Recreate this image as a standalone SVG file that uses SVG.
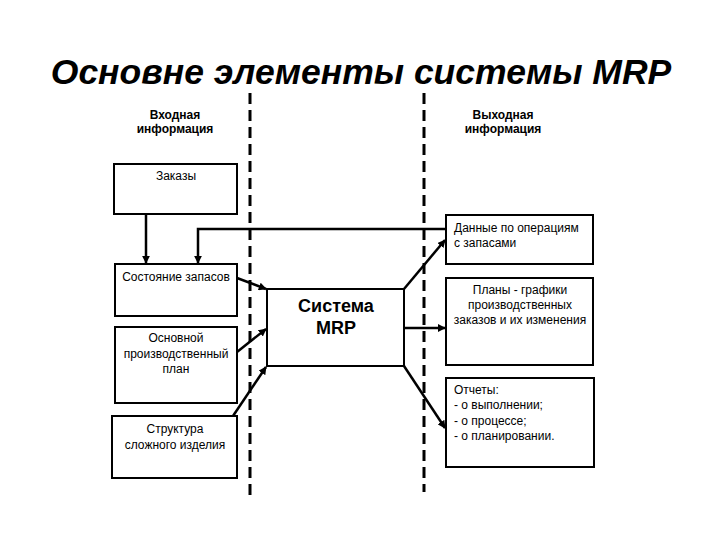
<svg xmlns="http://www.w3.org/2000/svg" width="720" height="540" viewBox="0 0 720 540">
<defs>
<marker id="ah" viewBox="0 0 10 10" refX="9" refY="5" markerWidth="8" markerHeight="8" markerUnits="userSpaceOnUse" orient="auto">
<path d="M0,0 L10,5 L0,10 z" fill="#000"/>
</marker>
</defs>
<style>
.box{fill:#fff;stroke:#000;stroke-width:2}
.t{font-family:"Liberation Sans",Arial,sans-serif;font-size:12px;fill:#000}
.c{text-anchor:middle}
.b{font-weight:bold}
.ln{fill:none;stroke:#000;stroke-width:2.5}
.dash{stroke:#000;stroke-width:3;stroke-dasharray:11 6;fill:none}
</style>
<rect width="720" height="540" fill="#fff"/>
<text x="361" y="84" font-family="Liberation Sans,Arial,sans-serif" font-size="35.5" font-weight="bold" font-style="italic" text-anchor="middle">Основне элементы системы MRP</text>
<g id="dividers">
<line class="dash" x1="250" y1="93" x2="250" y2="497"/>
<line class="dash" x1="424" y1="93" x2="424" y2="492"/>
</g>
<g id="label-in"><text class="t c b" x="175" y="119">Входная</text><text class="t c b" x="175" y="133">информация</text></g>
<g id="label-out"><text class="t c b" x="503" y="119">Выходная</text><text class="t c b" x="503" y="133">информация</text></g>
<g id="zakazy"><rect class="box" x="114" y="164" width="123" height="50"/><text class="t c" x="176" y="180">Заказы</text></g>
<g id="sostoyanie"><rect class="box" x="115" y="264" width="122" height="52"/><text class="t c" x="176" y="281">Состояние запасов</text></g>
<g id="osnovnoy"><rect class="box" x="115" y="327" width="122" height="76"/><text class="t c" x="176" y="342">Основной</text><text class="t c" x="176" y="358">производственный</text><text class="t c" x="176" y="373">план</text></g>
<g id="struktura"><rect class="box" x="112" y="416" width="125" height="62"/><text class="t c" x="175" y="433">Структура</text><text class="t c" x="175" y="449">сложного изделия</text></g>
<g id="mrp"><rect class="box" x="267" y="289" width="137" height="77"/><text x="336" y="312" font-family="Liberation Sans,Arial,sans-serif" font-size="18" font-weight="bold" text-anchor="middle">Система</text><text x="336" y="334" font-family="Liberation Sans,Arial,sans-serif" font-size="18" font-weight="bold" text-anchor="middle">MRP</text></g>
<g id="dannye"><rect class="box" x="446" y="215" width="147" height="49"/><text class="t" x="454" y="232">Данные по операциям</text><text class="t" x="454" y="247">с запасами</text></g>
<g id="plany"><rect class="box" x="446" y="278" width="147" height="87"/><text class="t c" x="520" y="294">Планы - графики</text><text class="t c" x="520" y="309">производственных</text><text class="t c" x="520" y="324">заказов и их изменения</text></g>
<g id="otchety"><rect class="box" x="446" y="378" width="148" height="89"/><text class="t" x="454" y="394">Отчеты:</text><text class="t" x="454" y="409">- о выполнении;</text><text class="t" x="454" y="425">- о процессе;</text><text class="t" x="454" y="440">- о планировании.</text></g>
<g id="connectors">
<line class="ln" x1="146" y1="214" x2="146" y2="263" marker-end="url(#ah)"/>
<polyline class="ln" points="446,229 198,229 198,263" marker-end="url(#ah)"/>
<line class="ln" x1="237" y1="278" x2="266" y2="289" marker-end="url(#ah)"/>
<line class="ln" x1="237" y1="352" x2="266" y2="329" marker-end="url(#ah)"/>
<line class="ln" x1="233" y1="416" x2="266" y2="367" marker-end="url(#ah)"/>
<line class="ln" x1="404" y1="289" x2="445" y2="240" marker-end="url(#ah)"/>
<line class="ln" x1="404" y1="328" x2="445" y2="328" marker-end="url(#ah)"/>
<line class="ln" x1="404" y1="366" x2="445" y2="428" marker-end="url(#ah)"/>
</g>
</svg>
